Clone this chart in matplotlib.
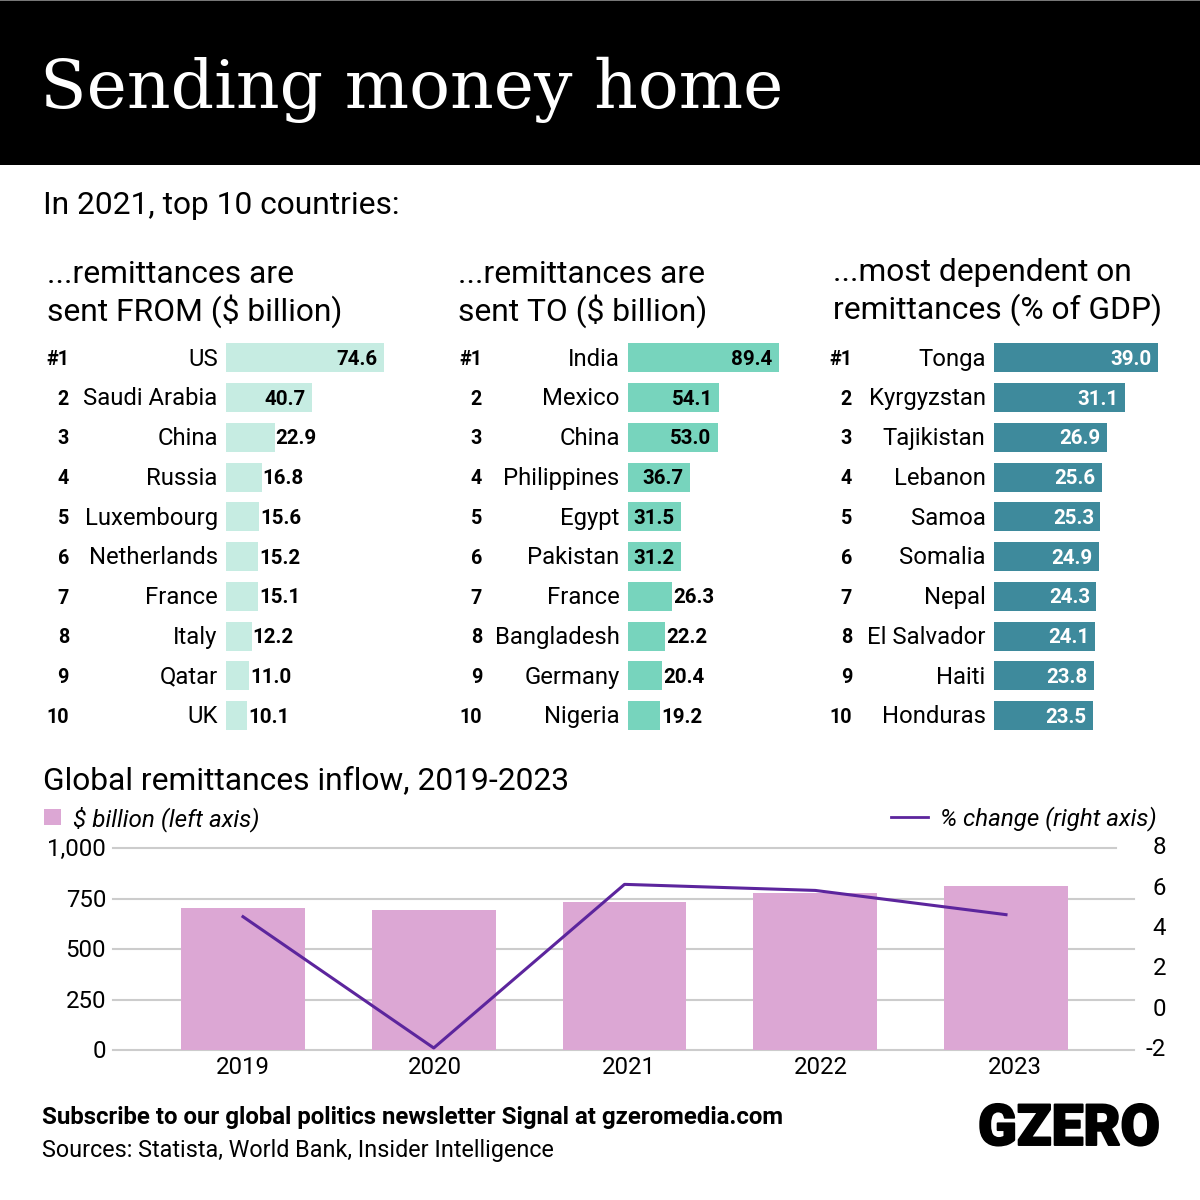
import matplotlib
matplotlib.use("Agg")
import matplotlib.pyplot as plt
import matplotlib.patheffects as pe
from matplotlib.lines import Line2D
from matplotlib.patches import Rectangle
from matplotlib.transforms import ScaledTranslation

plt.rcParams["font.family"] = ["Roboto", "DejaVu Sans"]

W, H = 1200, 1200

from_countries = ["US", "Saudi Arabia", "China", "Russia", "Luxembourg",
                  "Netherlands", "France", "Italy", "Qatar", "UK"]
from_values = [74.6, 40.7, 22.9, 16.8, 15.6, 15.2, 15.1, 12.2, 11.0, 10.1]

to_countries = ["India", "Mexico", "China", "Philippines", "Egypt",
                "Pakistan", "France", "Bangladesh", "Germany", "Nigeria"]
to_values = [89.4, 54.1, 53.0, 36.7, 31.5, 31.2, 26.3, 22.2, 20.4, 19.2]

gdp_countries = ["Tonga", "Kyrgyzstan", "Tajikistan", "Lebanon", "Samoa",
                 "Somalia", "Nepal", "El Salvador", "Haiti", "Honduras"]
gdp_values = [39.0, 31.1, 26.9, 25.6, 25.3, 24.9, 24.3, 24.1, 23.8, 23.5]

ranks = ["#1", "2", "3", "4", "5", "6", "7", "8", "9", "10"]

years = ["2019", "2020", "2021", "2022", "2023"]
inflow = [703, 691, 734, 776, 812]
pct_change = [4.6, -1.9, 6.2, 5.9, 4.7]
left_ticks = [0, 250, 500, 750, 1000]
left_labels = ["0", "250", "500", "750", "1,000"]
right_ticks = [-2, 0, 2, 4, 6, 8]
year_label_pos = [0.0, 1.007, 2.024, 3.03, 4.047]


def px_axes(fig, x0, y0, x1, y1):
    # pixel box, y measured from the top of the picture
    return fig.add_axes([x0 / W, 1 - y1 / H, (x1 - x0) / W, (y1 - y0) / H])


def label(fig, x, y, s, size=22.9, **kw):
    kw.setdefault("va", "baseline")
    return fig.text(x / W, 1 - y / H, s, fontsize=size, **kw)


def nudge(labels, fig, points):
    for lab in labels:
        lab.set_transform(lab.get_transform() + ScaledTranslation(0, points / 72, fig.dpi_scale_trans))


def rank_chart(fig, x0, px_per_unit, rank_x, countries, values, color, inside_from):
    ax = px_axes(fig, x0, 338.1, x0 + px_per_unit * 100, 735.6)
    rows = range(len(values))
    ax.barh(rows, values, height=0.73, color=color)
    ax.set_xlim(0, 100)
    ax.set_ylim(9.5, -0.5)
    ax.set_yticks(list(rows), countries, fontsize=17.2)
    ax.set_xticks([])
    ax.tick_params(axis="y", length=0, pad=6)
    nudge(ax.get_yticklabels(), fig, 1)
    ax.patch.set_visible(False)
    for s in ax.spines.values():
        s.set_visible(False)
    for i, v in enumerate(values):
        inside = v >= inside_from
        ax.annotate(f"{v:.1f}", (v, i), xytext=(-4.5 if inside else 0.7, -1),
                    textcoords="offset points", va="center",
                    ha="right" if inside else "left", fontsize=14.8,
                    fontweight="bold",
                    color="white" if color == DARK else "black")
        fig.text(rank_x / W, 1 - (358 + 39.75 * i + 1.5) / H, ranks[i], fontsize=14.2,
                 fontweight="bold", ha="right", va="center")
    return ax


PALE, TEAL, DARK = "#c6ece2", "#77d4bd", "#3e8a9c"
PINK, PURPLE, GRID = "#dca7d4", "#5c259d", "#cccccc"

fig = plt.figure(figsize=(W / 100, H / 100), dpi=100, facecolor="white")

# header band
fig.patches.append(Rectangle((0, 1 - 164.5 / H), 1, 164.5 / H, transform=fig.transFigure,
                             facecolor="black", edgecolor="none"))
fig.patches.append(Rectangle((0, 1 - 1 / H), 1, 1 / H, transform=fig.transFigure,
                             facecolor="#777777", edgecolor="none"))
label(fig, 40, 108, "Sending money home", size=49, family="DejaVu Serif", color="white")
label(fig, 43, 214, "In 2021, top 10 countries:")

label(fig, 47, 283, "...remittances are")
label(fig, 47, 321, "sent FROM ($ billion)")
label(fig, 458, 283, "...remittances are")
label(fig, 458, 321, "sent TO ($ billion)")
label(fig, 833, 281, "...most dependent on")
label(fig, 833, 319, "remittances (% of GDP)")

rank_chart(fig, 226, 2.118, 69, from_countries, from_values, PALE, 40)
rank_chart(fig, 628, 1.689, 482, to_countries, to_values, TEAL, 31)
rank_chart(fig, 994, 4.205, 852, gdp_countries, gdp_values, DARK, 20)

label(fig, 43, 789, "Global remittances inflow, 2019-2023")

# legend, drawn by hand to sit on either side of the chart
fig.patches.append(Rectangle((44 / W, 1 - 825 / H), 17 / W, 16 / H,
                             transform=fig.transFigure, facecolor=PINK, edgecolor="none"))
label(fig, 73, 826, "$ billion (left axis)", size=17.5, style="italic")
fig.lines.append(Line2D([891 / W, 928 / W], [1 - 817 / H] * 2, transform=fig.transFigure,
                        color=PURPLE, lw=2))
label(fig, 940, 825, "% change (right axis)", size=17.4, style="italic")

# combo chart
ax = px_axes(fig, 113, 848, 1134, 1050)
ax.set_xlim(-0.6815, 4.671)
ax.set_ylim(0, 1000)
for t in left_ticks:
    # top gridline stops short of the right axis numbers
    ax.axhline(t, xmax=0.982 if t == 1000 else 1, color=GRID, lw=1.5, zorder=1, clip_on=False)
ax.bar(range(len(years)), inflow, width=0.65, color=PINK, zorder=2)
ax.set_yticks(left_ticks, left_labels, fontsize=17.3)
ax.set_xticks(year_label_pos, years, fontsize=17.3)
ax.tick_params(axis="both", length=0)
ax.tick_params(axis="y", pad=5)
ax.tick_params(axis="x", pad=4.5)
nudge(ax.get_yticklabels(), fig, 0.7)
for s in ax.spines.values():
    s.set_visible(False)

ax2 = ax.twinx()
ax2.plot(range(len(years)), pct_change, color=PURPLE, lw=2.2, zorder=3)
ax2.set_ylim(-2, 8)
ax2.set_yticks(right_ticks, [str(t) for t in right_ticks], fontsize=17.3, ha="right")
ax2.tick_params(axis="y", length=0, pad=23)
nudge(ax2.get_yticklabels(), fig, 2)
for s in ax2.spines.values():
    s.set_visible(False)

# footer
label(fig, 42, 1124, "Subscribe to our global politics newsletter Signal at gzeromedia.com",
      size=17.3, fontweight="bold")
label(fig, 42, 1157, "Sources: Statista, World Bank, Insider Intelligence", size=16.85)
logo = label(fig, 978, 1145, "GZERO", size=41, fontweight="black", family="Roboto")
logo.set_path_effects([pe.withStroke(linewidth=1.4, foreground="black")])

fig.savefig("out.png", dpi=100)
plt.close(fig)
